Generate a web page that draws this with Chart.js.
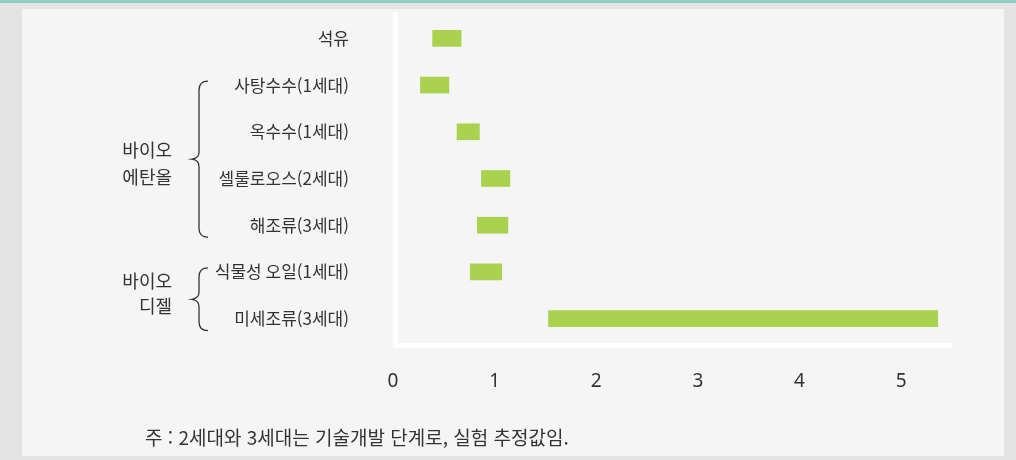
<!DOCTYPE html>
<html lang="ko">
<head>
<meta charset="utf-8">
<title>바이오 연료 생산 비용</title>
<script src="https://cdn.jsdelivr.net/npm/chart.js@4"></script>
<style>
  html, body { margin: 0; padding: 0; }
  body {
    width: 1016px; height: 460px; overflow: hidden; position: relative;
    background: #e3e3e3; font-family: "Noto Sans CJK KR", "Noto Sans", sans-serif;
  }
  #topline { position: absolute; left: 0; top: 0; width: 1016px; height: 3px; background: #8ecfc4; }
  #panel { position: absolute; left: 22px; top: 9px; width: 982px; height: 447px; background: #f5f5f5; }
  #chart { position: absolute; left: 0; top: 0; }
  #note {
    position: absolute; left: 145px; top: 426px; font-size: 19px; line-height: 22px;
    color: #333; white-space: nowrap;
  }
</style>
</head>
<body>
<div id="topline"></div>
<div id="panel"></div>
<canvas id="chart" width="1016" height="460"></canvas>
<div id="note">주 : 2세대와 3세대는 기술개발 단계로, 실험 추정값임.</div>

<script>
// 데이터
const categories = ["석유", "사탕수수(1세대)", "옥수수(1세대)", "셀룰로오스(2세대)", "해조류(3세대)", "식물성 오일(1세대)", "미세조류(3세대)"];
const rangeStart = [0.39, 0.27, 0.63, 0.87, 0.83, 0.76, 1.53];
const rangeEnd   = [0.67, 0.55, 0.85, 1.15, 1.13, 1.07, 5.36];
const xTicks = [0, 1, 2, 3, 4, 5];

// 그룹 (중괄호로 묶이는 항목)
const groupNames = [["바이오", "에탄올"], ["바이오", "디젤"]];
const groupFirst = [1, 5];
const groupLast  = [4, 6];

const barColor = "#a9d34f";
const textColor = "#333333";

// 축선과 그룹 중괄호 그리기
const decorPlugin = {
  id: "decor",
  beforeDatasetsDraw(chart) {
    const { ctx, chartArea } = chart;
    ctx.save();
    ctx.fillStyle = "#ffffff";
    ctx.fillRect(chartArea.left, 12, 5, chartArea.bottom + 6 - 12);
    ctx.fillRect(chartArea.left, chartArea.bottom + 1, chartArea.right - chartArea.left, 5);
    ctx.restore();
  },
  afterDraw(chart) {
    const { ctx } = chart;
    const yScale = chart.scales.y;
    const textDy = [[-9, 18], [-18, 7]];
    ctx.save();
    ctx.strokeStyle = textColor;
    ctx.lineWidth = 1.3;
    ctx.fillStyle = textColor;
    ctx.font = "18px 'Noto Sans CJK KR'";
    ctx.textAlign = "right";
    ctx.textBaseline = "middle";
    groupNames.forEach((lines, i) => {
      const top = yScale.getPixelForValue(groupFirst[i]) - 4;
      const bottom = yScale.getPixelForValue(groupLast[i]) + 12;
      const mid = (top + bottom) / 2;
      const xv = 199, xh = 208, xt = 192;
      ctx.beginPath();
      ctx.moveTo(xh, top);
      ctx.quadraticCurveTo(xv, top, xv, top + 9);
      ctx.lineTo(xv, mid - 7);
      ctx.quadraticCurveTo(xv, mid - 1, xt, mid);
      ctx.quadraticCurveTo(xv, mid + 1, xv, mid + 7);
      ctx.lineTo(xv, bottom - 9);
      ctx.quadraticCurveTo(xv, bottom, xh, bottom);
      ctx.stroke();
      ctx.fillText(lines[0], 172, mid + textDy[i][0]);
      ctx.fillText(lines[1], 172, mid + textDy[i][1]);
    });
    ctx.restore();
  }
};

function noScalePadding(scale) {
  scale.paddingTop = 0;
  scale.paddingBottom = 0;
  scale.paddingLeft = 0;
  scale.paddingRight = 0;
}

const ctx = document.getElementById("chart").getContext("2d");
new Chart(ctx, {
  type: "bar",
  data: {
    labels: categories,
    datasets: [{
      data: categories.map((c, i) => [rangeStart[i], rangeEnd[i]]),
      backgroundColor: barColor,
      borderWidth: 0,
      barThickness: 16,
    }],
  },
  options: {
    indexAxis: "y",
    responsive: false,
    animation: false,
    devicePixelRatio: 1,
    layout: { padding: { top: 15, right: 64, left: 0, bottom: 0 } },
    plugins: { legend: { display: false }, tooltip: { enabled: false } },
    scales: {
      x: {
        min: 0,
        max: 5.5,
        grid: { display: false },
        border: { display: false },
        afterBuildTicks: (scale) => { scale.ticks = xTicks.map(v => ({ value: v })); },
        afterFit: (scale) => { scale.height = 118; noScalePadding(scale); },
        ticks: {
          padding: 20,
          color: textColor,
          font: { family: "'Noto Sans', 'Noto Sans CJK KR'", size: 19 },
          maxRotation: 0,
        },
      },
      y: {
        grid: { display: false },
        border: { display: false },
        afterFit: (scale) => { scale.width = 393; noScalePadding(scale); },
        ticks: {
          padding: 36,
          color: textColor,
          font: { family: "'Noto Sans CJK KR'", size: 17 },
        },
      },
    },
  },
  plugins: [decorPlugin],
});
</script>
</body>
</html>
